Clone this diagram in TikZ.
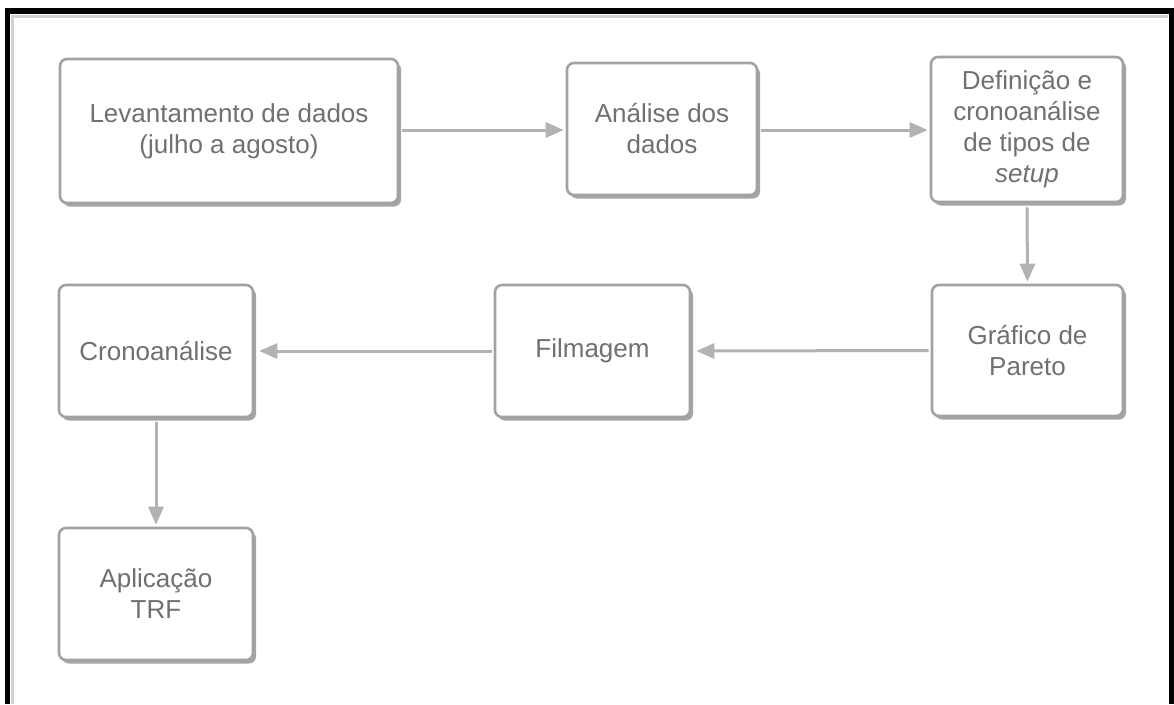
\documentclass[tikz,border=0pt]{standalone}
\usepackage{fontspec}
\setmainfont{Liberation Sans}
\usetikzlibrary{shadows,arrows.meta,calc}
\definecolor{boxline}{HTML}{A2A2A2}
\definecolor{arrowc}{HTML}{B2B2B2}
\definecolor{txt}{HTML}{707070}
\definecolor{shad}{HTML}{9C9C9C}
\tikzset{
  flowbox/.style={draw=boxline, line width=2.6pt, fill=white, rounded corners=7pt,
    align=center, text=txt, inner sep=0pt,
    font=\fontsize{26}{31}\selectfont,
    drop shadow={shadow xshift=3pt, shadow yshift=-3.5pt, fill=shad, opacity=0.9}},
  flowarrow/.style={draw=arrowc, line width=3pt, -{Triangle[length=18pt,width=15pt]}},
}
\begin{document}
\begin{tikzpicture}[x=1pt,y=-1pt]
\useasboundingbox (0,0) rectangle (1174,704);
\fill[white] (0,0) rectangle (1174,704);
% outer frame
\draw[gray!35, line width=3pt] (12,704) -- (12,16.5) -- (1168,16.5);
\draw[black, line width=5.5pt] (7.5,704) -- (7.5,11) -- (1171.5,11) -- (1171.5,704);
% boxes
\node[flowbox, minimum width=338pt, minimum height=144pt] (b1) at (229,131) {Levantamento de dados\\(julho a agosto)};
\node[flowbox, minimum width=190pt, minimum height=132pt] (b2) at (662,129) {Análise dos\\dados};
\node[flowbox, minimum width=192pt, minimum height=145pt] (b3) at (1027,129.5) {Definição e\\cronoanálise\\de tipos de\\\textit{setup}};
\node[flowbox, minimum width=191pt, minimum height=131pt] (b4) at (1027.5,350.5) {Gráfico de\\Pareto};
\node[flowbox, minimum width=195pt, minimum height=132pt] (b5) at (592.5,351) {Filmagem};
\node[flowbox, minimum width=194pt, minimum height=132pt] (b6) at (156,351) {Cronoanálise};
\node[flowbox, minimum width=194pt, minimum height=132pt] (b7) at (156,594) {Aplicação\\TRF};
% connectors
\draw[flowarrow] ($(b1.east)+(3,-1)$) -- ($(b1.east -| b2.west)+(-2,-1)$);
\draw[flowarrow] ($(b2.east)+(3,1)$) -- ($(b2.east -| b3.west)+(-2,1)$);
\draw[flowarrow] ($(b3.south)+(0,4)$) -- ($(b4.north)+(0,-2)$);
\draw[flowarrow] ($(b4.west)+(-2,0)$) -- ($(b5.east)+(5,0)$);
\draw[flowarrow] ($(b5.west)+(-2,0)$) -- ($(b6.east)+(5,0)$);
\draw[flowarrow] ($(b6.south)+(0,4)$) -- ($(b7.north)+(0,-2)$);
\end{tikzpicture}
\end{document}
